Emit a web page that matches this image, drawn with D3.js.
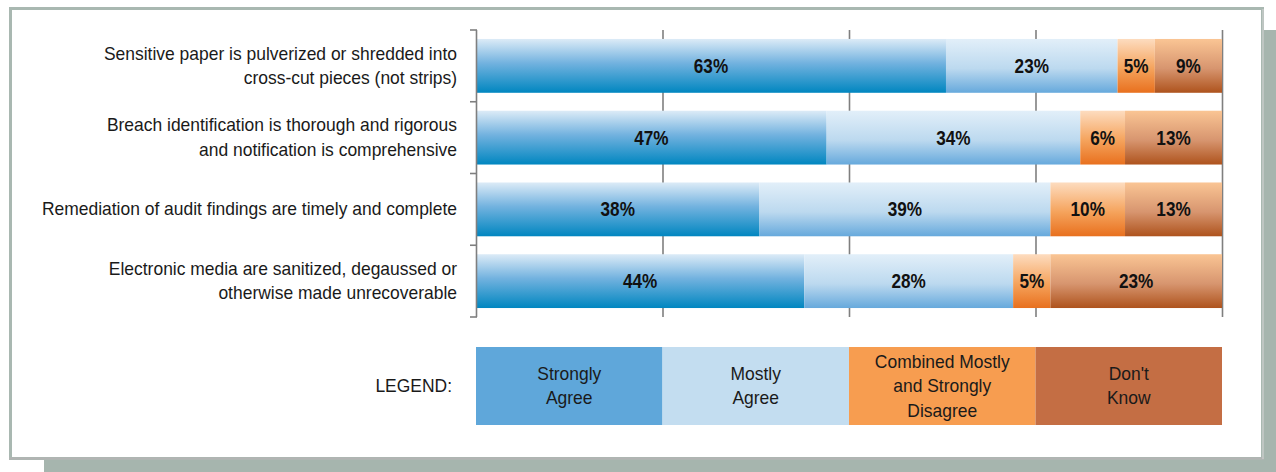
<!DOCTYPE html>
<html><head><meta charset="utf-8">
<script src="https://cdn.jsdelivr.net/npm/d3@7"></script>
<style>
html,body{margin:0;padding:0;background:#fff;}
svg{display:block;font-family:"Liberation Sans",Arial,Helvetica,sans-serif;}
</style></head>
<body>
<svg id="chart" width="1276" height="472"></svg>
<script>
// ---- data ----
const categories = [
  ["Sensitive paper is pulverized or shredded into", "cross-cut pieces (not strips)"],
  ["Breach identification is thorough and rigorous", "and notification is comprehensive"],
  ["Remediation of audit findings are timely and complete"],
  ["Electronic media are sanitized, degaussed or", "otherwise made unrecoverable"]
];
const seriesNames = ["Strongly Agree", "Mostly Agree", "Combined Mostly and Strongly Disagree", "Don't Know"];
const legendLabels = [["Strongly", "Agree"], ["Mostly", "Agree"], ["Combined Mostly", "and Strongly", "Disagree"], ["Don't", "Know"]];
const stronglyAgree = [63, 47, 38, 44];
const mostlyAgree = [23, 34, 39, 28];
const disagree = [5, 6, 10, 5];
const dontKnow = [9, 13, 13, 23];
const xTicks = [0, 25, 50, 75, 100];

const series = [stronglyAgree, mostlyAgree, disagree, dontKnow];
const legendColors = ["#5fa7da", "#c3ddf0", "#f79d50", "#c46e44"];
const gradStops = [
  [["0%", "#dcebf7"], ["45%", "#72b2df"], ["100%", "#0086c0"]],
  [["0%", "#e2eff9"], ["55%", "#bcd9ef"], ["100%", "#66a9dc"]],
  [["0%", "#fddcbf"], ["55%", "#f5a35c"], ["100%", "#e8701e"]],
  [["0%", "#fac594"], ["55%", "#d7956f"], ["100%", "#ae531d"]]
];

const svg = d3.select("#chart");

// frame and shadow
svg.append("rect").attr("x", 44).attr("y", 30).attr("width", 1260).attr("height", 460).attr("fill", "#a6b5ae");
svg.append("rect").attr("x", 10.5).attr("y", 8.5).attr("width", 1252).attr("height", 450)
  .attr("fill", "#fff").attr("stroke", "#a9b8b1").attr("stroke-width", 3);
svg.append("line").attr("x1", 9).attr("x2", 1264).attr("y1", 458.5).attr("y2", 458.5).attr("stroke", "#b3b3b3").attr("stroke-width", 2);
svg.append("line").attr("x1", 1263).attr("x2", 1263).attr("y1", 9).attr("y2", 459).attr("stroke", "#d4d4d4").attr("stroke-width", 1);

// gradients
const defs = svg.append("defs");
gradStops.forEach((stops, i) => {
  const g = defs.append("linearGradient").attr("id", "g" + i).attr("x1", 0).attr("y1", 0).attr("x2", 0).attr("y2", 1);
  stops.forEach(s => g.append("stop").attr("offset", s[0]).attr("stop-color", s[1]));
});

const x = d3.scaleLinear().domain([0, 100]).range([476, 1222]);
const y = d3.scaleBand().domain(d3.range(categories.length)).range([30, 317]).paddingInner(0.25).paddingOuter(0.125);

// gridlines
svg.append("g").selectAll("line").data(xTicks.slice(1)).join("line")
  .attr("x1", d => x(d) + 0.5).attr("x2", d => x(d) + 0.5)
  .attr("y1", 30).attr("y2", 317)
  .attr("stroke", "#7f7f7f").attr("stroke-width", 1.6);

// stacked data
const rows = categories.map((c, i) => {
  let acc = 0;
  return series.map((s, k) => { const v = s[i]; const seg = {row: i, k, x0: acc, x1: acc + v, v}; acc += v; return seg; });
});

const barG = svg.append("g");
rows.flat().forEach(d => {
  barG.append("rect")
    .attr("x", x(d.x0)).attr("width", x(d.x1) - x(d.x0))
    .attr("y", y(d.row)).attr("height", y.bandwidth())
    .attr("fill", `url(#g${d.k})`);
  barG.append("text")
    .attr("transform", `translate(${(x(d.x0) + x(d.x1)) / 2},${y(d.row) + y.bandwidth() / 2 + 7}) scale(0.88,1)`)
    .attr("text-anchor", "middle")
    .attr("font-size", 19.5).attr("font-weight", "bold").attr("fill", "#111")
    .text(d.v + "%");
});

// left axis
const ax = svg.append("g").attr("stroke", "#7f7f7f").attr("stroke-width", 1.6);
ax.append("line").attr("x1", 476.5).attr("x2", 476.5).attr("y1", 30).attr("y2", 317);
const bounds = d3.range(categories.length + 1).map(i => 30 + i * (317 - 30) / categories.length);
ax.selectAll("line.t").data(bounds).join("line").attr("class", "t")
  .attr("x1", 470).attr("x2", 477).attr("y1", d => d).attr("y2", d => d);

// category labels
categories.forEach((lines, i) => {
  const cy = y(i) + y.bandwidth() / 2;
  const lh = 24.5;
  lines.forEach((t, j) => {
    const ly = cy + (j - (lines.length - 1) / 2) * lh + 6;
    svg.append("text")
      .attr("transform", `translate(457,${ly}) scale(0.97,1)`)
      .attr("text-anchor", "end").attr("font-size", 18).attr("fill", "#1a1a1a")
      .text(t);
  });
});

// legend
const lx = d3.scaleBand().domain(d3.range(seriesNames.length)).range([476, 1222]);
const legY = 347, legH = 78;
svg.append("text").attr("transform", `translate(452,${legY + legH / 2 + 6}) scale(0.97,1)`)
  .attr("text-anchor", "end").attr("font-size", 18).attr("fill", "#1a1a1a").text("LEGEND:");
seriesNames.forEach((n, k) => {
  svg.append("rect").attr("x", lx(k)).attr("y", legY).attr("width", lx.bandwidth()).attr("height", legH)
    .attr("fill", legendColors[k]);
  const lines = legendLabels[k];
  lines.forEach((t, j) => {
    const ly = legY + legH / 2 + (j - (lines.length - 1) / 2) * 24.5 + 6;
    svg.append("text")
      .attr("transform", `translate(${lx(k) + lx.bandwidth() / 2},${ly}) scale(0.97,1)`)
      .attr("text-anchor", "middle").attr("font-size", 18).attr("fill", "#1a1a1a")
      .text(t);
  });
});
</script>
</body></html>
